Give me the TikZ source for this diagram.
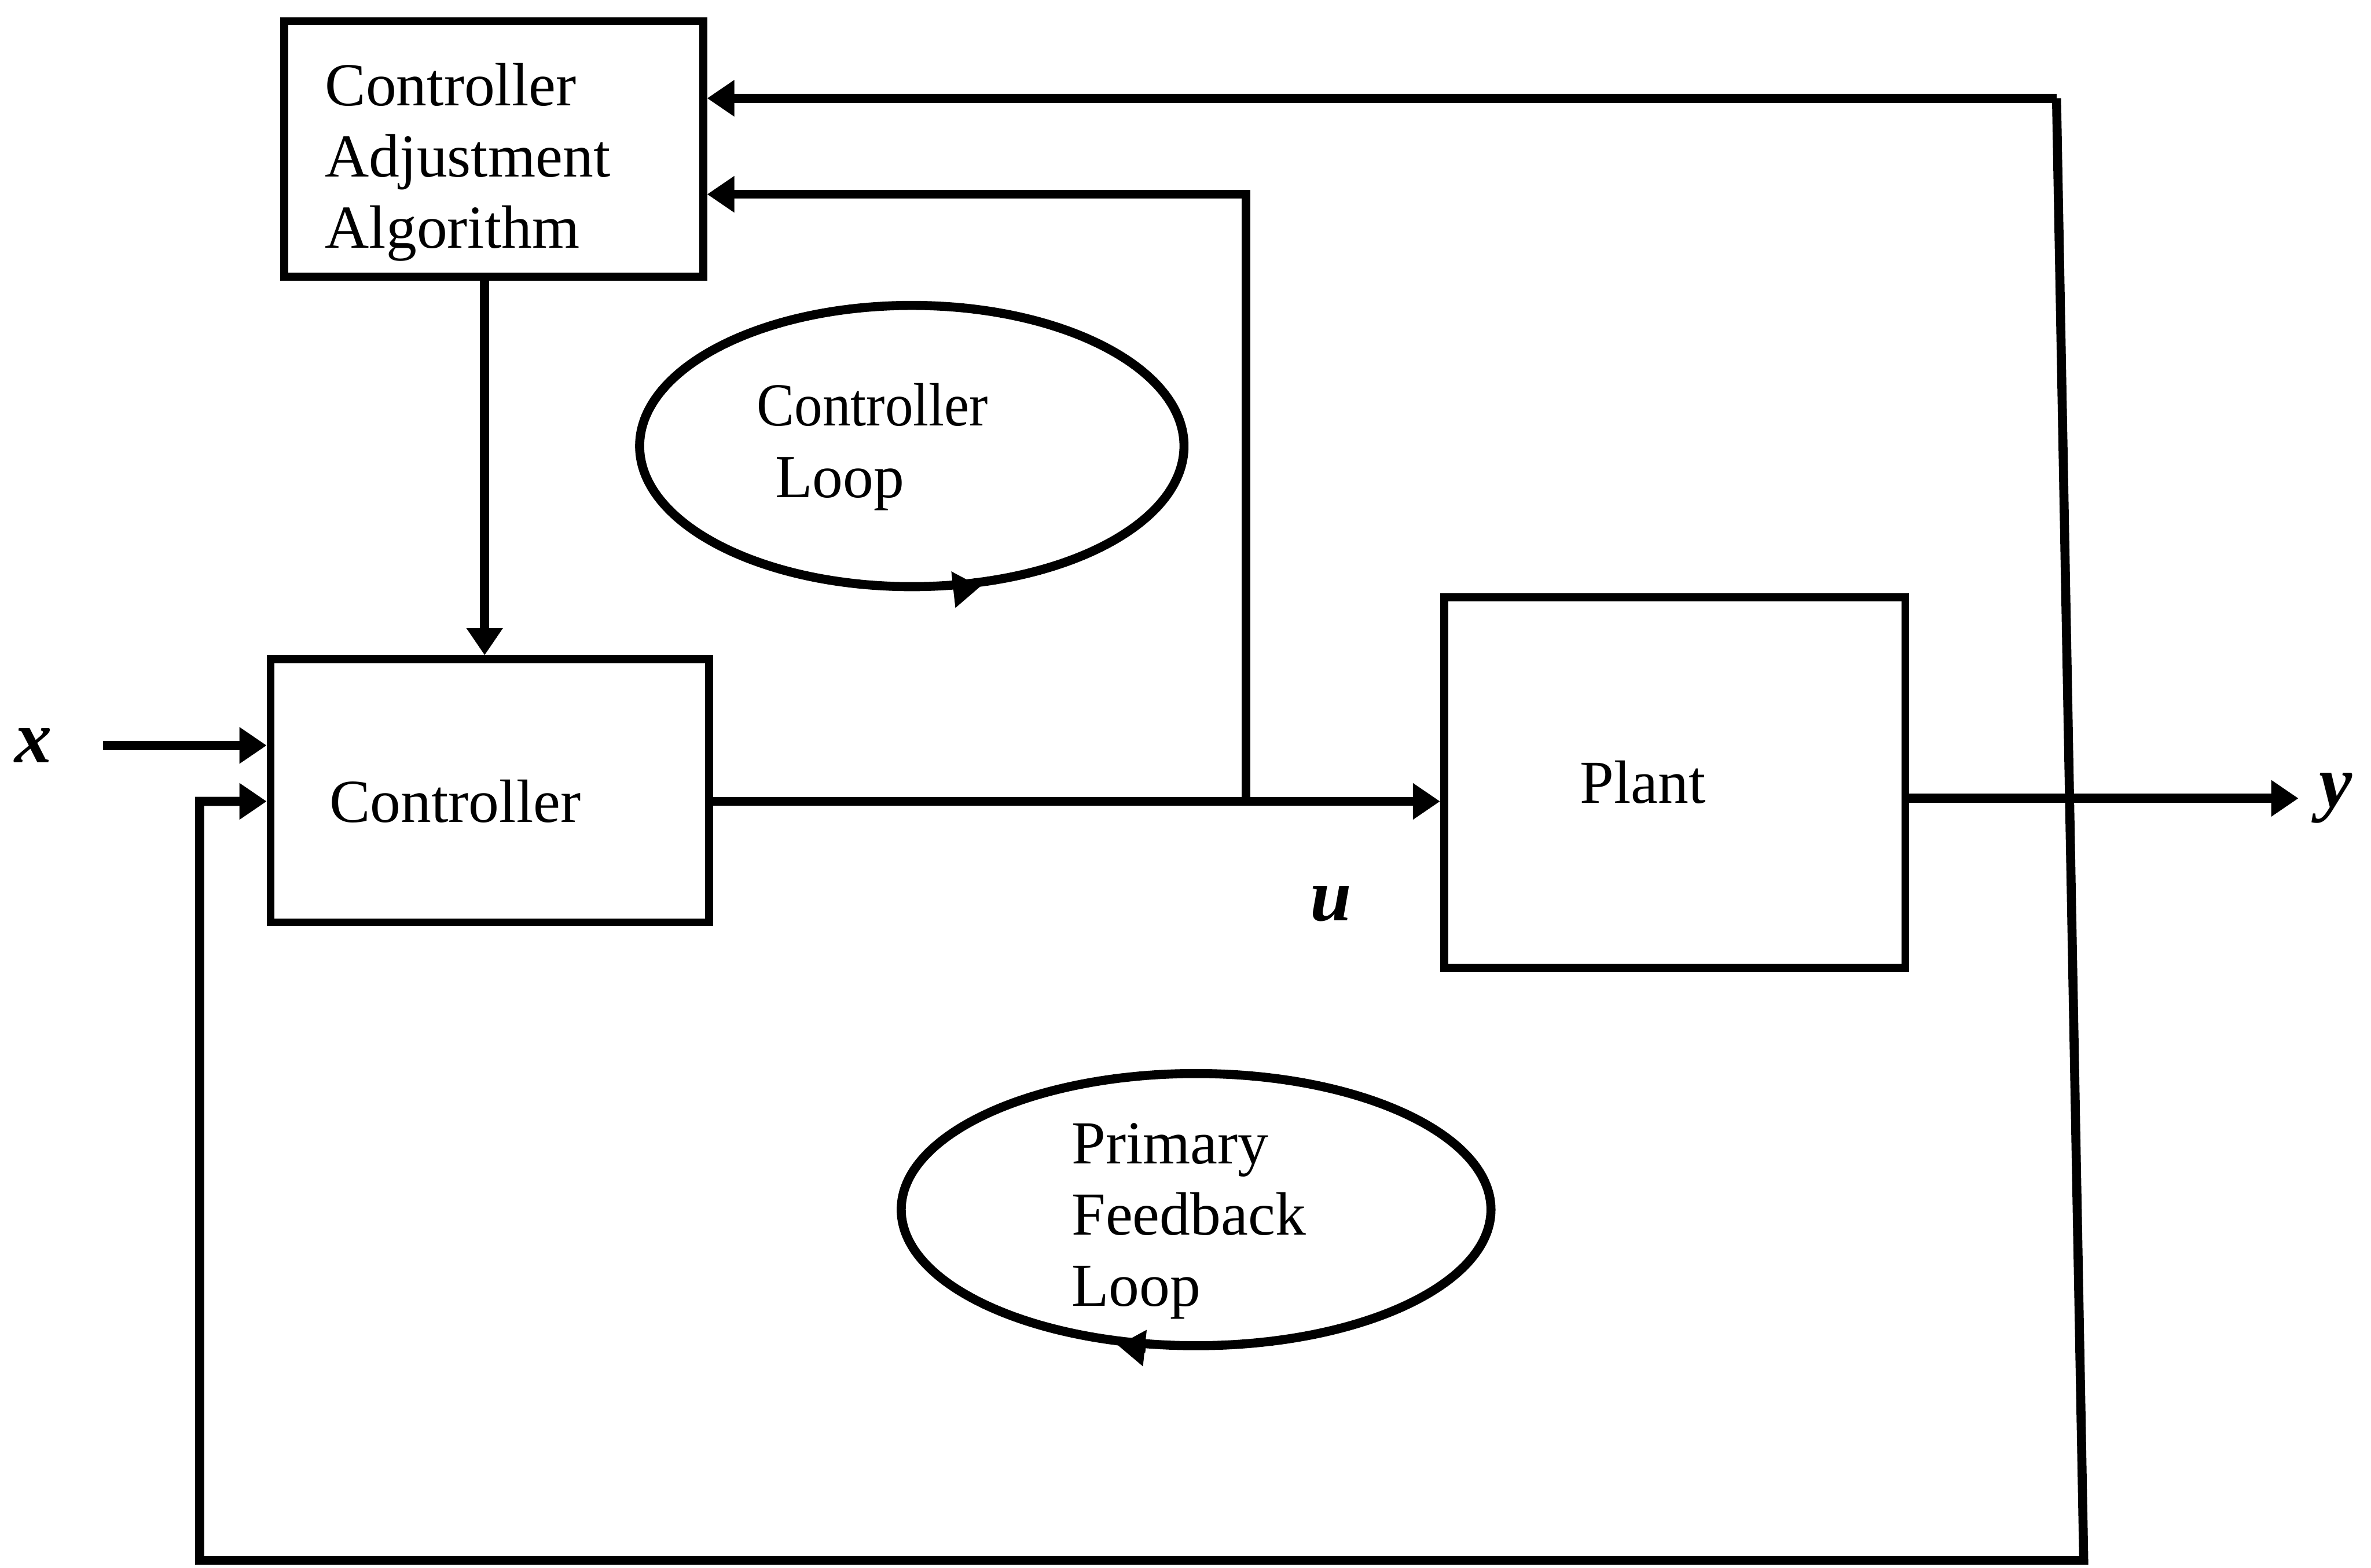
\documentclass[tikz,border=0pt]{standalone}
\usepackage{fontspec}
\setmainfont{Liberation Serif}
\usetikzlibrary{arrows.meta,positioning,calc,shapes.geometric}
\tikzset{
    block/.style={draw, line width=1.5pt, align=left, inner ysep=0pt, font=\fontsize{11.5}{13.4}\selectfont},
    loopbox/.style={draw, ellipse, line width=1.7pt, inner sep=0pt},
    looplabel/.style={align=left, inner sep=0pt, font=\fontsize{11.5}{13.4}\selectfont},
    signalline/.style={line width=1.7pt},
    signalarrow/.style={-{Triangle[length=1.8mm, width=2.3mm]}, line width=1.7pt},
    signallabel/.style={inner sep=0pt, font=\fontsize{14}{16}\selectfont\bfseries\itshape}
}

\begin{document}
\begin{tikzpicture}[node distance=5mm]
    \useasboundingbox (0,0) rectangle (15.68,-10.37);
    % blocks
    \node[block, minimum width=2.77cm, minimum height=1.69cm, inner xsep=2.7mm, text width=2.23cm, text height=13pt] (caa) at (3.265,-0.985) {Controller\\Adjustment\\Algorithm};
    \node[block, minimum width=2.90cm, minimum height=1.74cm, inner xsep=3.9mm, text width=2.12cm, text height=11.9pt] (ctrl) at (3.24,-5.23) {Controller};
    \node[block, minimum width=3.05cm, minimum height=2.45cm, inner xsep=9mm, text width=1.25cm] (plant) at (11.075,-5.175) {Plant};

    % loops
    \node[loopbox, minimum width=3.6cm, minimum height=1.86cm] (cloop) at (6.03,-2.95) {};
    \node[looplabel, anchor=north west] (cloopname) at (5.00,-2.53) {\scalebox{0.92}[1]{Controller}\\\hspace*{1.2mm}Loop};
    \draw[signalarrow] (cloop.-72) -- (cloop.-64);
    \node[loopbox, minimum width=3.9cm, minimum height=1.8cm] (ploop) at (7.91,-8.00) {};
    \node[looplabel, anchor=north west] (ploopname) at (7.08,-7.42) {Primary\\Feedback\\Loop};
    \draw[signalarrow] (ploop.-110) -- (ploop.-120);

    % signals
    \coordinate (xin) at (0.68,-4.93);
    \coordinate (tap) at (8.24,-5.30);
    \coordinate (yout) at (15.20,-5.28);
    \coordinate (fbtop) at (13.60,-0.65);
    \coordinate (fbbot) at (13.78,-10.32);
    \coordinate (fbleft) at (1.32,-10.32);

    \draw[signalarrow] (xin) -- (xin -| ctrl.west);
    \draw[signalarrow] ([xshift=-0.6mm]caa.south) -- ([xshift=-0.6mm]caa.south |- ctrl.north);
    \draw[signalarrow] (ctrl.east |- tap) -- (plant.west |- tap);
    \draw[signalarrow] (tap) |- ($(caa.east)+(0,-0.30)$);
    \draw[signalarrow] (plant.east |- yout) -- (yout);
    \draw[signalarrow] (fbtop) -- (fbtop -| caa.east);
    \draw[signalarrow] (fbtop) -- (fbbot) -- (fbleft) |- ($(ctrl.west)+(0,-0.07)$);

    \node[signallabel, left=3.3mm of xin] (xname) {x};
    \node[signallabel, right=1.3mm of yout] (yname) {y};
    \node[signallabel] (uname) at (8.80,-5.98) {u};
\end{tikzpicture}
\end{document}
